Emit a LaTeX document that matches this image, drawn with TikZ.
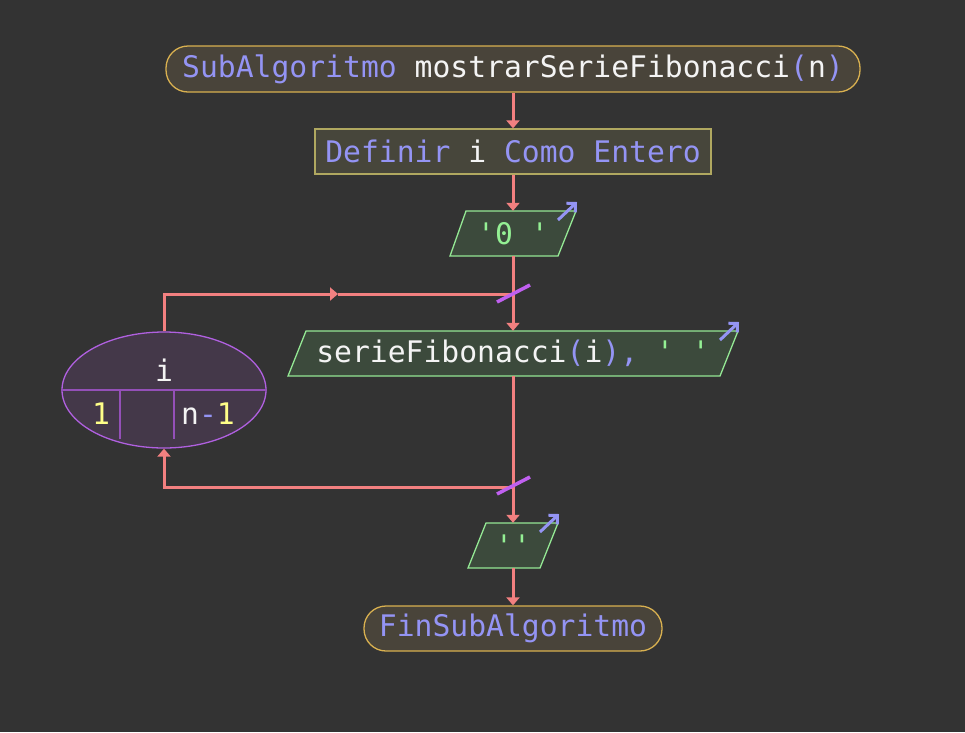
\documentclass[tikz,border=0pt]{standalone}
\usepackage{fontspec}
\setmonofont{DejaVu Sans Mono}
\usetikzlibrary{arrows.meta,shapes.geometric}
\definecolor{bg}{HTML}{333333}
\definecolor{kwc}{HTML}{9494F4}
\definecolor{wtc}{HTML}{F4F4F4}
\definecolor{grc}{HTML}{94F094}
\definecolor{ylc}{HTML}{FFFF88}
\definecolor{linec}{HTML}{F28080}
\definecolor{termfill}{HTML}{49443A}
\definecolor{termdraw}{HTML}{D8B050}
\definecolor{procfill}{HTML}{47463B}
\definecolor{procdraw}{HTML}{B0A860}
\definecolor{iofill}{HTML}{3C4A3C}
\definecolor{iodraw}{HTML}{94E894}
\definecolor{ellfill}{HTML}{443849}
\definecolor{elldraw}{HTML}{B060E0}
\definecolor{divc}{HTML}{9450B8}
\definecolor{slashc}{HTML}{C060F0}
\newcommand\Kw[1]{\textcolor{kwc}{#1}}
\newcommand\Wt[1]{\textcolor{wtc}{#1}}
\newcommand\Gr[1]{\textcolor{grc}{#1}}
\newcommand\Yl[1]{\textcolor{ylc}{#1}}
\begin{document}
\begin{tikzpicture}[x=1pt,y=-1pt,
  font=\ttfamily\fontsize{29.7}{32}\selectfont,
  term/.style={draw=termdraw,fill=termfill,line width=1.3pt,rounded corners=22pt,inner sep=0pt},
  proc/.style={draw=procdraw,fill=procfill,line width=1.3pt,inner sep=0pt},
  iobox/.style={draw=iodraw,fill=iofill,line width=1.3pt,line join=miter},
  iotext/.style={inner sep=0pt,minimum height=45pt},
  loopell/.style={ellipse,draw=elldraw,fill=ellfill,line width=1.3pt,minimum width=204pt,minimum height=116pt,inner sep=0pt},
  divline/.style={draw=divc,line width=2pt},
  txt/.style={inner sep=0pt},
  line/.style={draw=linec,line width=3pt},
  flow/.style={line,-{Triangle[width=13pt,length=8pt]}},
  slash/.style={draw=slashc,line width=3.5pt},
  outicon/.style={draw=kwc,line width=3pt,-{Straight Barb[angle=90:9pt]}}
]
\fill[bg] (0,0) rectangle (965,732);
\useasboundingbox (0,0) rectangle (965,732);

% nodes
\node[term,minimum width=694pt,minimum height=46pt] (start) at (513,69)
  {\Kw{SubAlgoritmo} \Wt{mostrarSerieFibonacci}\Kw{(}\Wt{n}\Kw{)}};
\node[proc,minimum width=396pt,minimum height=45pt] (def) at (513,151.5)
  {\Kw{Definir} \Wt{i} \Kw{Como Entero}};

\path[iobox] (466,211) -- (576,211) -- (558,256) -- (450,256) -- cycle;
\node[iotext,minimum width=100pt] (p0) at (513,233.5) {\Gr{'0 '}};

\path[iobox] (306,331) -- (738,331) -- (720,376) -- (288,376) -- cycle;
\node[iotext,minimum width=400pt] (serie) at (513,353.5)
  {\Wt{serieFibonacci}\Kw{(}\Wt{i}\Kw{),} \Gr{' '}};

\path[iobox] (486,523) -- (558,523) -- (540,568) -- (468,568) -- cycle;
\node[iotext,minimum width=60pt] (last) at (513,545.5) {\Gr{''}};

\node[term,minimum width=298pt,minimum height=45pt] (end) at (513,628.5)
  {\Kw{FinSubAlgoritmo}};

\node[loopell] (loop) at (164,390) {};
\draw[divline] (loop.west) -- (loop.east);
\draw[divline] (120,390) -- (120,439);
\draw[divline] (174,390) -- (174,439);
\node[txt] (lvar) at (164,370) {\Wt{i}};
\node[txt] (lfrom) at (101,414) {\Yl{1}};
\node[txt] (lto) at (208,414) {\Wt{n}\Kw{-}\Yl{1}};

% connectors
\draw[flow] (start) -- (def);
\draw[flow] (def) -- (p0);
\draw[flow] (p0) -- (serie);
\draw[flow] (serie) -- (last);
\draw[flow] (last) -- (end);

\coordinate (jt) at (513,294);
\coordinate (ma) at (338,294);
\draw[flow] (loop.north) |- (ma);
\draw[line] (ma) -- (jt);

\coordinate (jb) at (513,487);
\draw[flow] (jb) -| (loop.south);

% slashes
\draw[slash] (497,302) -- (530,285);
\draw[slash] (497,494) -- (530,477);

% output icons
\draw[outicon] (558,220) -- (577,202);
\draw[outicon] (720,340) -- (739,322);
\draw[outicon] (540,532) -- (559,514);
\end{tikzpicture}
\end{document}
